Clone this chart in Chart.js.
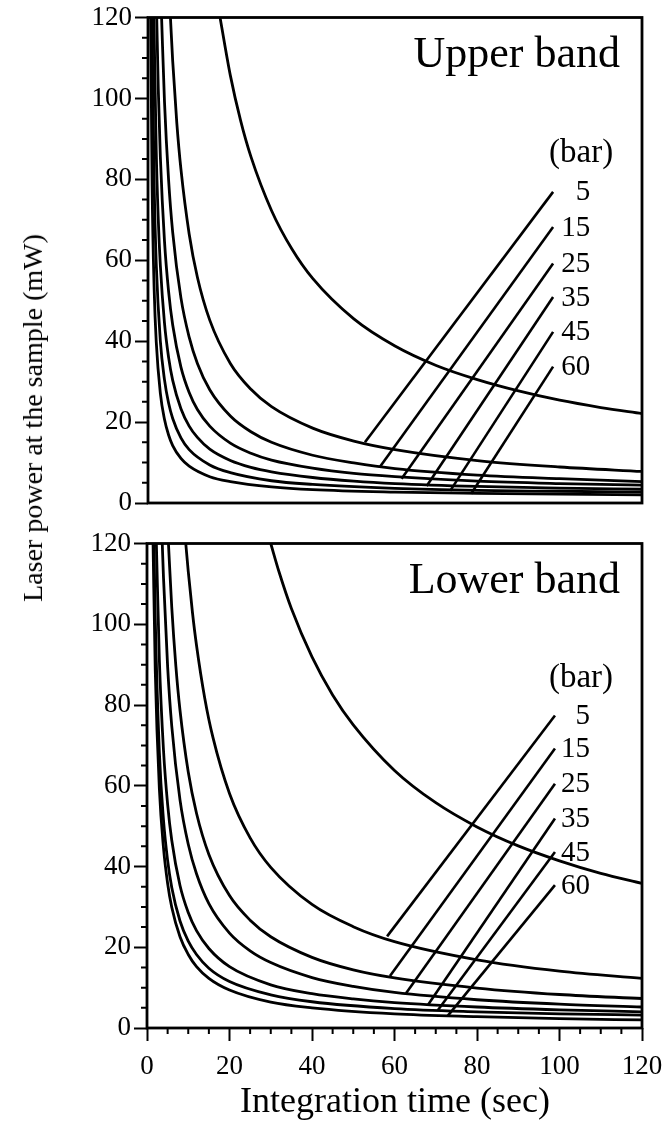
<!DOCTYPE html>
<html>
<head>
<meta charset="utf-8">
<script src="https://cdn.jsdelivr.net/npm/chart.js@4.4.1/dist/chart.umd.min.js"></script>
<style>
    html, body { margin: 0; padding: 0; background: #fff; }
    body { width: 669px; height: 1127px; position: relative; overflow: hidden;
           font-family: 'Liberation Serif', 'Times New Roman', serif; color: #000; }
    canvas { position: absolute; left: 0; }
    #upperChart { top: 0; }
    #lowerChart { top: 525px; }
    .axis-title { position: absolute; white-space: nowrap; line-height: 1; }
    #yTitle { left: 33px; top: 418px; font-size: 28px; transform: translate(-50%, -50%) rotate(-90deg); }
    #xTitle { left: 395px; top: 1100px; font-size: 36px; transform: translate(-50%, -50%); }
</style>
</head>
<body>
<canvas id="upperChart" width="669" height="520"></canvas>
<canvas id="lowerChart" width="669" height="602"></canvas>
<div class="axis-title" id="yTitle">Laser power at the sample (mW)</div>
<div class="axis-title" id="xTitle">Integration time (sec)</div>

<script>
// tick values shared by both panels
const timeTicks = [0, 20, 40, 60, 80, 100, 120];
const powerTicks = [0, 20, 40, 60, 80, 100, 120];
const pressures = ['5', '15', '25', '35', '45', '60'];
const pressureUnit = '(bar)';

// Upper band curves, [integration time (sec), laser power (mW)]
const upperOuter = [[17.5, 120], [20, 105.7], [22.5, 94.5], [25, 85.6], [30, 72.3], [35, 62.7], [40, 55.5], [50, 45.5], [60, 38.8], [70, 34.0], [80, 30.5], [90, 27.7], [100, 25.4], [110, 23.6], [120, 22.1]];
const upper5 = [[5.45, 120], [6, 109.2], [7, 93.9], [8, 82.5], [10, 66.5], [12, 55.8], [15, 45.2], [20, 34.5], [25, 28.1], [30, 23.8], [40, 18.5], [50, 15.3], [60, 13.2], [80, 10.5], [100, 8.9], [120, 7.8]];
const upper15 = [[3.3, 120], [4, 99.3], [5, 79.9], [6, 66.9], [8, 50.7], [10, 41.0], [12, 34.5], [15, 28.0], [20, 21.5], [25, 17.6], [30, 15.0], [40, 11.8], [50, 9.9], [60, 8.5], [80, 6.9], [100, 6.0], [120, 5.3]];
const upper25 = [[2.12, 120], [2.5, 102.3], [3, 85.6], [4, 64.8], [5, 52.3], [6, 44.0], [8, 33.6], [10, 27.3], [12, 23.1], [15, 19.0], [20, 14.8], [25, 12.3], [30, 10.6], [40, 8.6], [50, 7.3], [60, 6.5], [80, 5.4], [100, 4.8], [120, 4.4]];
const upper35 = [[1.44, 120], [2, 87], [2.5, 70], [3, 58.7], [4, 44.5], [5, 36], [6, 30.3], [8, 23.3], [10, 19], [12, 16.2], [15, 13.3], [20, 10.5], [25, 8.8], [30, 7.7], [40, 6.3], [50, 5.4], [60, 4.8], [80, 4.1], [100, 3.7], [120, 3.4]];
const upper45 = [[0.97, 120], [1.5, 78.4], [2, 59.2], [3, 40.0], [4, 30.5], [5, 24.7], [6, 20.9], [8, 16.1], [10, 13.2], [15, 9.4], [20, 7.5], [30, 5.5], [40, 4.6], [60, 3.6], [80, 3.1], [100, 2.9], [120, 2.7]];
const upper60 = [[0.65, 120], [1, 78.4], [1.5, 52.7], [2, 39.9], [3, 27.1], [4, 20.7], [5, 16.8], [6, 14.2], [8, 11.0], [10, 9.1], [15, 6.5], [20, 5.3], [30, 4.0], [40, 3.3], [60, 2.7], [80, 2.4], [100, 2.2], [120, 2.0]];

// Lower band curves
const lowerOuter = [[30, 120], [32, 113.0], [35, 103.9], [40, 91.9], [45, 82.5], [50, 75.1], [60, 63.8], [70, 55.8], [80, 49.8], [90, 45.1], [100, 41.4], [110, 38.3], [120, 35.8]];
const lower5 = [[9.4, 120], [10, 113.1], [11, 103.1], [12, 94.8], [14, 81.7], [16, 71.9], [20, 58.1], [25, 47.1], [30, 39.8], [40, 30.6], [50, 25.1], [60, 21.4], [80, 16.9], [100, 14.1], [120, 12.3]];
const lower15 = [[5.2, 120], [6, 104.2], [7, 89.6], [8, 78.7], [10, 63.4], [12, 53.2], [15, 43.0], [20, 32.8], [25, 26.7], [30, 22.6], [40, 17.5], [50, 14.4], [60, 12.4], [80, 9.9], [100, 8.3], [120, 7.3]];
const lower25 = [[3.7, 120], [4, 111.5], [5, 89.5], [6, 74.8], [8, 56.5], [10, 45.5], [12, 38.2], [15, 30.8], [20, 23.5], [25, 19.1], [30, 16.2], [40, 12.5], [50, 10.3], [60, 8.8], [80, 7.0], [100, 5.9], [120, 5.2]];
const lower35 = [[2.27, 120], [3, 91.1], [4, 68.8], [5, 55.4], [6, 46.5], [8, 35.3], [10, 28.6], [12, 24.1], [15, 19.7], [20, 15.2], [30, 10.7], [40, 8.5], [50, 7.2], [60, 6.3], [80, 5.2], [100, 4.5], [120, 4.0]];
const lower45 = [[1.69, 120], [2, 101.5], [3, 68.2], [4, 51.5], [5, 41.5], [6, 34.8], [8, 26.5], [10, 21.5], [12, 18.2], [15, 14.8], [20, 11.5], [30, 8.2], [40, 6.5], [60, 4.8], [80, 4.0], [100, 3.5], [120, 3.2]];
const lower60 = [[1.47, 120], [2, 88.6], [3, 59.2], [4, 44.6], [5, 35.8], [6, 29.9], [8, 22.6], [10, 18.2], [12, 15.2], [15, 12.3], [20, 9.4], [30, 6.4], [40, 5.0], [60, 3.5], [80, 2.8], [100, 2.3], [120, 2.0]];

// leader lines from the pressure labels down to their curves
const upperLeaderFoot = [[52.7, 15.0], [56.4, 9.0], [61.6, 6.0], [67.7, 4.2], [73.4, 3.0], [78.5, 2.3]];
const upperLeaderHead = [[98.4, 76.9], [98.4, 68.2], [98.4, 59.2], [98.4, 50.9], [98.4, 42.3], [98.4, 33.7]];
const lowerLeaderFoot = [[58.2, 22.7], [58.9, 12.9], [62.8, 8.6], [68.1, 5.7], [70.5, 4.4], [72.9, 3.0]];
const lowerLeaderHead = [[98.9, 77.4], [98.9, 69.2], [98.9, 60.5], [98.9, 51.9], [98.9, 43.6], [98.9, 35.4]];

// where the label text sits (right edge of the numbers, centre of the unit)
const labelRightTime = 107.4;
const unitLabelAt = [105.2, 86.5];

const serif = "'Liberation Serif', 'Times New Roman', serif";

function toPoints(arr) {
    return arr.map(function (p) { return { x: p[0], y: p[1] }; });
}

function curveDataset(arr) {
    return {
        data: toPoints(arr),
        borderColor: '#000',
        borderWidth: 2.8,
        pointRadius: 0,
        fill: false,
        cubicInterpolationMode: 'monotone'
    };
}

function leaderDataset(foot, head) {
    return {
        data: toPoints([foot, head]),
        borderColor: '#000',
        borderWidth: 2.6,
        pointRadius: 0,
        fill: false,
        tension: 0
    };
}

// minor ticks every 5 units plus the closed frame round the plot
const axisDecor = {
    id: 'axisDecor',
    afterDraw: function (chart) {
        const ctx = chart.ctx;
        const a = chart.chartArea;
        const xs = chart.scales.x;
        const ys = chart.scales.y;
        ctx.save();
        ctx.strokeStyle = '#000';
        ctx.lineWidth = 2;
        ctx.beginPath();
        for (let v = 5; v < 120; v += 5) {
            if (v % 20 === 0) continue;
            const y = ys.getPixelForValue(v);
            ctx.moveTo(a.left - 6, y);
            ctx.lineTo(a.left, y);
            if (chart.options.scales.x.display) {
                const x = xs.getPixelForValue(v);
                ctx.moveTo(x, a.bottom);
                ctx.lineTo(x, a.bottom + 6);
            }
        }
        ctx.stroke();
        ctx.lineWidth = 2.8;
        ctx.strokeRect(a.left, a.top, a.right - a.left, a.bottom - a.top);
        ctx.restore();
    }
};

// panel title, "(bar)" and the pressure numbers
const pressureNotes = {
    id: 'pressureNotes',
    afterDraw: function (chart, args, opts) {
        const ctx = chart.ctx;
        const a = chart.chartArea;
        const xs = chart.scales.x;
        const ys = chart.scales.y;
        ctx.save();
        ctx.fillStyle = '#000';

        ctx.font = '44px ' + serif;
        ctx.textAlign = 'right';
        ctx.textBaseline = 'alphabetic';
        ctx.fillText(opts.title, a.right - 22, a.top + 49);

        ctx.font = '33px ' + serif;
        ctx.textAlign = 'center';
        ctx.textBaseline = 'middle';
        ctx.fillText(pressureUnit, xs.getPixelForValue(unitLabelAt[0]), ys.getPixelForValue(unitLabelAt[1]));

        ctx.font = '29px ' + serif;
        ctx.textAlign = 'right';
        opts.heads.forEach(function (h, i) {
            ctx.fillText(pressures[i], xs.getPixelForValue(labelRightTime), ys.getPixelForValue(h[1]) + 1);
        });
        ctx.restore();
    }
};

function buildChart(canvasId, curves, feet, heads, title, showTime) {
    const datasets = curves.map(curveDataset);
    feet.forEach(function (f, i) {
        datasets.push(leaderDataset(f, heads[i]));
    });

    const tickFont = { family: serif, size: 27 };

    return new Chart(document.getElementById(canvasId), {
        type: 'line',
        data: { datasets: datasets },
        options: {
            responsive: false,
            animation: false,
            devicePixelRatio: 1,
            layout: {
                padding: { left: 0, right: 27, top: showTime ? 18.5 : 17.5, bottom: showTime ? 0 : 17 }
            },
            plugins: {
                legend: { display: false },
                tooltip: { enabled: false },
                pressureNotes: { title: title, heads: heads }
            },
            scales: {
                x: {
                    type: 'linear',
                    display: showTime,
                    min: timeTicks[0],
                    max: timeTicks[timeTicks.length - 1],
                    afterBuildTicks: function (s) {
                        s.ticks = timeTicks.map(function (v) { return { value: v }; });
                    },
                    ticks: { font: tickFont, color: '#000', padding: 10, maxRotation: 0, autoSkip: false },
                    grid: { drawOnChartArea: false, tickLength: 13, tickWidth: 2, tickColor: '#000' },
                    border: { display: false },
                    afterFit: function (s) {
                        s.height = showTime ? 99 : 0;
                        s.paddingLeft = 0;
                        s.paddingRight = 0;
                    }
                },
                y: {
                    type: 'linear',
                    min: powerTicks[0],
                    max: powerTicks[powerTicks.length - 1],
                    afterBuildTicks: function (s) {
                        s.ticks = powerTicks.map(function (v) { return { value: v }; });
                    },
                    ticks: { font: tickFont, color: '#000', padding: 3, autoSkip: false },
                    grid: { drawOnChartArea: false, tickLength: 13, tickWidth: 2, tickColor: '#000' },
                    border: { display: false },
                    afterFit: function (s) {
                        s.width = showTime ? 147 : 148;
                        s.paddingTop = 0;
                        s.paddingBottom = 0;
                    }
                }
            }
        },
        plugins: [axisDecor, pressureNotes]
    });
}

buildChart('upperChart',
    [upperOuter, upper5, upper15, upper25, upper35, upper45, upper60],
    upperLeaderFoot, upperLeaderHead, 'Upper band', false);

buildChart('lowerChart',
    [lowerOuter, lower5, lower15, lower25, lower35, lower45, lower60],
    lowerLeaderFoot, lowerLeaderHead, 'Lower band', true);
</script>
</body>
</html>
